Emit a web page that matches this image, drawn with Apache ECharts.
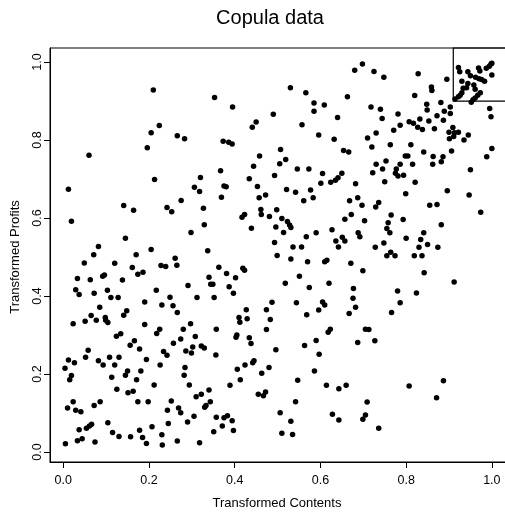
<!DOCTYPE html>
<html>
<head>
<meta charset="utf-8">
<script src="https://cdn.jsdelivr.net/npm/echarts@6/dist/echarts.min.js"></script>
<style>html,body{margin:0;padding:0;background:#fff;}#c{width:505px;height:513px;}</style>
</head>
<body>
<div id="c"></div>
<script>
const titleText = 'Copula data';
const xName = 'Transformed Contents';
const yName = 'Transformed Profits';
const tickValues = [0, 0.2, 0.4, 0.6, 0.8, 1.0];
const boxCorner = [0.91, 0.9];
const copulaPoints = [
[0.210,0.928],[0.224,0.837],[0.205,0.819],[0.196,0.780],[0.060,0.761],[0.213,0.699],
[0.353,0.909],[0.395,0.885],[0.490,0.866],[0.450,0.846],[0.441,0.833],[0.266,0.811],[0.283,0.803],[0.373,0.797],[0.386,0.794],[0.394,0.790],[0.458,0.759],[0.444,0.733],[0.367,0.721],[0.320,0.704],[0.493,0.709],[0.434,0.701],
[0.680,0.979],[0.698,0.995],[0.725,0.976],[0.748,0.961],[0.530,0.934],[0.566,0.921],[0.663,0.911],[0.585,0.895],[0.609,0.890],[0.585,0.874],[0.718,0.885],[0.740,0.879],[0.744,0.855],[0.640,0.858],[0.557,0.839],[0.596,0.813],[0.632,0.802],[0.730,0.818],[0.710,0.805],[0.720,0.782],[0.763,0.788],[0.507,0.776],[0.654,0.773],[0.666,0.769],[0.519,0.750],[0.505,0.739],[0.546,0.726],[0.573,0.726],[0.730,0.738],[0.753,0.746],[0.745,0.726],[0.722,0.716],[0.605,0.714],[0.650,0.715],[0.641,0.703],[0.635,0.697],[0.624,0.692],[0.601,0.689],[0.682,0.688],[0.750,0.693],
[0.828,0.970],[0.895,0.956],[0.859,0.936],[0.860,0.927],[0.820,0.914],
[0.995,0.881],[0.998,0.860],[0.903,0.885],[0.903,0.868],[0.881,0.896],[0.848,0.892],[0.849,0.877],[0.889,0.874],[0.781,0.867],[0.872,0.862],[0.887,0.851],[0.832,0.854],[0.853,0.849],[0.807,0.847],[0.817,0.843],[0.827,0.833],[0.786,0.838],[0.771,0.825],[0.838,0.827],[0.866,0.829],[0.909,0.832],[0.900,0.820],[0.913,0.819],[0.922,0.820],[0.911,0.809],[0.901,0.803],[0.945,0.813],[0.935,0.800],[0.811,0.788],[0.906,0.772],[1.000,0.778],[0.988,0.757],[0.841,0.769],[0.798,0.759],[0.804,0.759],[0.863,0.758],[0.886,0.757],[0.882,0.744],[0.862,0.738],[0.786,0.738],[0.815,0.738],[0.777,0.726],[0.775,0.715],[0.794,0.710],[0.781,0.708],[0.950,0.724],[0.821,0.692],
[0.922,0.986],[0.925,0.975],[0.944,0.975],[0.950,0.965],[0.969,0.985],[0.972,0.977],[0.987,0.984],[0.994,0.989],[0.998,0.995],[1.000,0.997],[1.000,0.967],[0.930,0.951],[0.962,0.961],[0.970,0.957],[0.976,0.955],[0.983,0.951],[0.944,0.945],[0.941,0.934],[0.958,0.941],[0.961,0.930],[0.933,0.933],[0.930,0.921],[0.926,0.915],[0.922,0.911],[0.914,0.905],[0.973,0.921],[0.967,0.915],[0.961,0.908],[0.956,0.903],[0.952,0.897],
[0.012,0.674],[0.141,0.632],[0.164,0.620],[0.019,0.592],[0.145,0.548],[0.082,0.527],[0.071,0.506],[0.170,0.506],[0.205,0.519],[0.049,0.485],[0.120,0.484],[0.161,0.473],[0.174,0.456],[0.186,0.461],[0.228,0.478],[0.033,0.445],[0.063,0.442],[0.092,0.451],[0.096,0.454],[0.138,0.441],[0.029,0.416],[0.037,0.404],[0.072,0.407],[0.103,0.415],[0.111,0.396],[0.128,0.396],[0.217,0.415],[0.190,0.385],[0.230,0.377],[0.085,0.371],[0.148,0.362],[0.141,0.351],[0.065,0.350],[0.051,0.335],[0.077,0.338],[0.098,0.345],[0.099,0.338],[0.104,0.332],[0.023,0.329],[0.190,0.327],
[0.306,0.679],[0.318,0.668],[0.375,0.682],[0.380,0.680],[0.453,0.681],[0.369,0.653],[0.457,0.652],[0.472,0.659],[0.275,0.645],[0.242,0.627],[0.253,0.616],[0.327,0.625],[0.461,0.622],[0.462,0.609],[0.498,0.621],[0.423,0.609],[0.417,0.602],[0.481,0.604],[0.329,0.583],[0.439,0.574],[0.496,0.577],[0.298,0.563],[0.493,0.537],[0.499,0.504],[0.337,0.516],[0.261,0.497],[0.265,0.479],[0.239,0.476],[0.363,0.474],[0.419,0.471],[0.423,0.466],[0.381,0.458],[0.402,0.447],[0.340,0.448],[0.344,0.430],[0.349,0.430],[0.291,0.427],[0.387,0.424],[0.397,0.407],[0.249,0.397],[0.312,0.396],[0.352,0.396],[0.256,0.375],[0.266,0.358],[0.487,0.384],[0.427,0.365],[0.474,0.365],[0.410,0.345],[0.429,0.342],[0.483,0.340],[0.412,0.333],[0.297,0.329],
[0.521,0.673],[0.542,0.666],[0.577,0.672],[0.561,0.644],[0.583,0.652],[0.668,0.644],[0.687,0.652],[0.697,0.633],[0.736,0.640],[0.729,0.628],[0.510,0.599],[0.523,0.591],[0.528,0.582],[0.531,0.576],[0.514,0.563],[0.672,0.609],[0.657,0.597],[0.703,0.593],[0.765,0.608],[0.758,0.588],[0.755,0.573],[0.762,0.562],[0.627,0.570],[0.590,0.562],[0.567,0.552],[0.688,0.562],[0.692,0.552],[0.651,0.551],[0.657,0.541],[0.636,0.541],[0.642,0.526],[0.536,0.526],[0.556,0.526],[0.728,0.525],[0.748,0.536],[0.755,0.503],[0.764,0.512],[0.531,0.495],[0.570,0.488],[0.610,0.488],[0.615,0.492],[0.671,0.484],[0.699,0.465],[0.551,0.451],[0.518,0.433],[0.574,0.422],[0.620,0.433],[0.677,0.419],[0.676,0.394],[0.682,0.371],[0.544,0.383],[0.605,0.385],[0.610,0.377],[0.596,0.364],[0.568,0.352],[0.667,0.355],[0.766,0.358],
[0.799,0.662],[0.896,0.670],[0.947,0.659],[0.855,0.633],[0.872,0.635],[0.974,0.615],[0.793,0.596],[0.882,0.583],[0.841,0.562],[0.800,0.548],[0.834,0.545],[0.850,0.532],[0.830,0.525],[0.874,0.525],[0.774,0.503],[0.819,0.503],[0.837,0.503],[0.842,0.460],[0.912,0.436],[0.780,0.413],[0.824,0.408],[0.786,0.383],
[0.225,0.315],[0.218,0.304],[0.124,0.297],[0.134,0.303],[0.166,0.285],[0.156,0.274],[0.178,0.264],[0.058,0.261],[0.052,0.243],[0.012,0.236],[0.026,0.229],[0.004,0.215],[0.082,0.234],[0.093,0.223],[0.108,0.243],[0.130,0.243],[0.120,0.223],[0.194,0.237],[0.234,0.258],[0.226,0.223],[0.181,0.208],[0.150,0.208],[0.145,0.197],[0.113,0.192],[0.019,0.196],[0.015,0.185],[0.171,0.185],[0.212,0.172],[0.125,0.161],[0.151,0.152],[0.163,0.156],[0.174,0.129],[0.198,0.129],[0.023,0.129],[0.010,0.113],[0.029,0.107],[0.041,0.103],[0.072,0.119],[0.086,0.129],[0.104,0.075],[0.066,0.071],[0.061,0.067],[0.054,0.061],[0.037,0.057],[0.115,0.050],[0.130,0.040],[0.157,0.039],[0.178,0.056],[0.185,0.037],[0.207,0.065],[0.194,0.022],[0.230,0.044],[0.231,0.018],[0.033,0.029],[0.044,0.034],[0.074,0.026],[0.005,0.021],
[0.280,0.315],[0.357,0.315],[0.474,0.314],[0.308,0.296],[0.274,0.290],[0.257,0.279],[0.405,0.300],[0.403,0.294],[0.434,0.293],[0.438,0.278],[0.302,0.269],[0.322,0.272],[0.329,0.267],[0.286,0.259],[0.299,0.254],[0.242,0.248],[0.356,0.249],[0.496,0.262],[0.445,0.234],[0.442,0.229],[0.424,0.223],[0.406,0.212],[0.480,0.217],[0.463,0.202],[0.284,0.217],[0.282,0.197],[0.413,0.185],[0.389,0.171],[0.294,0.172],[0.340,0.159],[0.322,0.148],[0.310,0.142],[0.343,0.129],[0.333,0.119],[0.330,0.115],[0.455,0.148],[0.467,0.144],[0.472,0.154],[0.252,0.131],[0.243,0.107],[0.269,0.113],[0.274,0.101],[0.305,0.092],[0.245,0.073],[0.290,0.077],[0.357,0.089],[0.375,0.088],[0.383,0.093],[0.394,0.080],[0.371,0.067],[0.351,0.052],[0.397,0.055],[0.266,0.028],[0.318,0.024],
[0.618,0.307],[0.623,0.315],[0.705,0.315],[0.713,0.314],[0.590,0.286],[0.563,0.273],[0.687,0.281],[0.727,0.285],[0.597,0.251],[0.586,0.208],[0.547,0.184],[0.614,0.171],[0.643,0.162],[0.660,0.171],[0.542,0.129],[0.506,0.101],[0.531,0.079],[0.510,0.048],[0.535,0.045],[0.628,0.097],[0.643,0.082],[0.709,0.128],[0.705,0.095],[0.699,0.084],[0.736,0.061],
[0.807,0.169],[0.887,0.183],[0.871,0.139]
];

const FONT = '"Liberation Sans", Arial, Helvetica, sans-serif';
const X_MIN = -0.031, X_MAX = 1.054, Y_MIN = -0.0256, Y_MAX = 1.036;
const fmt = v => Number(v).toFixed(1);

const chart = echarts.init(document.getElementById('c'), null, {renderer: 'canvas'});
chart.setOption({
  animation: false,
  backgroundColor: '#ffffff',
  grid: {left: 50, top: 48, width: 465, height: 414, outerBoundsMode: 'none', containLabel: false, show: true, borderColor: '#000', borderWidth: 1, backgroundColor: 'transparent'},
  xAxis: {
    type: 'value', min: X_MIN, max: X_MAX,
    axisLine: {show: true, onZero: false, lineStyle: {color: '#000', width: 1}},
    axisTick: {show: true, length: 6, customValues: tickValues, lineStyle: {color: '#000', width: 1}},
    axisLabel: {customValues: tickValues, formatter: fmt, color: '#000', fontSize: 12.5, fontFamily: FONT, margin: 12},
    splitLine: {show: false}
  },
  yAxis: {
    type: 'value', min: Y_MIN, max: Y_MAX,
    axisLine: {show: true, onZero: false, lineStyle: {color: '#000', width: 1}},
    axisTick: {show: true, length: 6, customValues: tickValues, lineStyle: {color: '#000', width: 1}},
    axisLabel: {customValues: tickValues, formatter: fmt, color: '#000', fontSize: 12.5, fontFamily: FONT, margin: 6, rotate: 90},
    splitLine: {show: false}
  },
  series: [{
    type: 'scatter',
    data: copulaPoints,
    symbol: 'circle',
    symbolSize: 5.5,
    itemStyle: {color: '#000', opacity: 1},
    markArea: {
      silent: true,
      itemStyle: {color: 'rgba(0,0,0,0)', borderColor: '#000', borderWidth: 1.2},
      data: [[{coord: boxCorner}, {coord: [X_MAX, Y_MAX]}]]
    }
  }],
  graphic: [
    {type: 'text', x: 270, y: 18, style: {text: titleText, fill: '#000', font: '20px ' + FONT, textAlign: 'center', textVerticalAlign: 'middle'}},
    {type: 'text', x: 277, y: 503, style: {text: xName, fill: '#000', font: '13px ' + FONT, textAlign: 'center', textVerticalAlign: 'middle'}},
    {type: 'text', x: 15, y: 257, rotation: Math.PI / 2, style: {text: yName, fill: '#000', font: '13px ' + FONT, textAlign: 'center', textVerticalAlign: 'middle'}}
  ]
});
</script>
</body>
</html>
